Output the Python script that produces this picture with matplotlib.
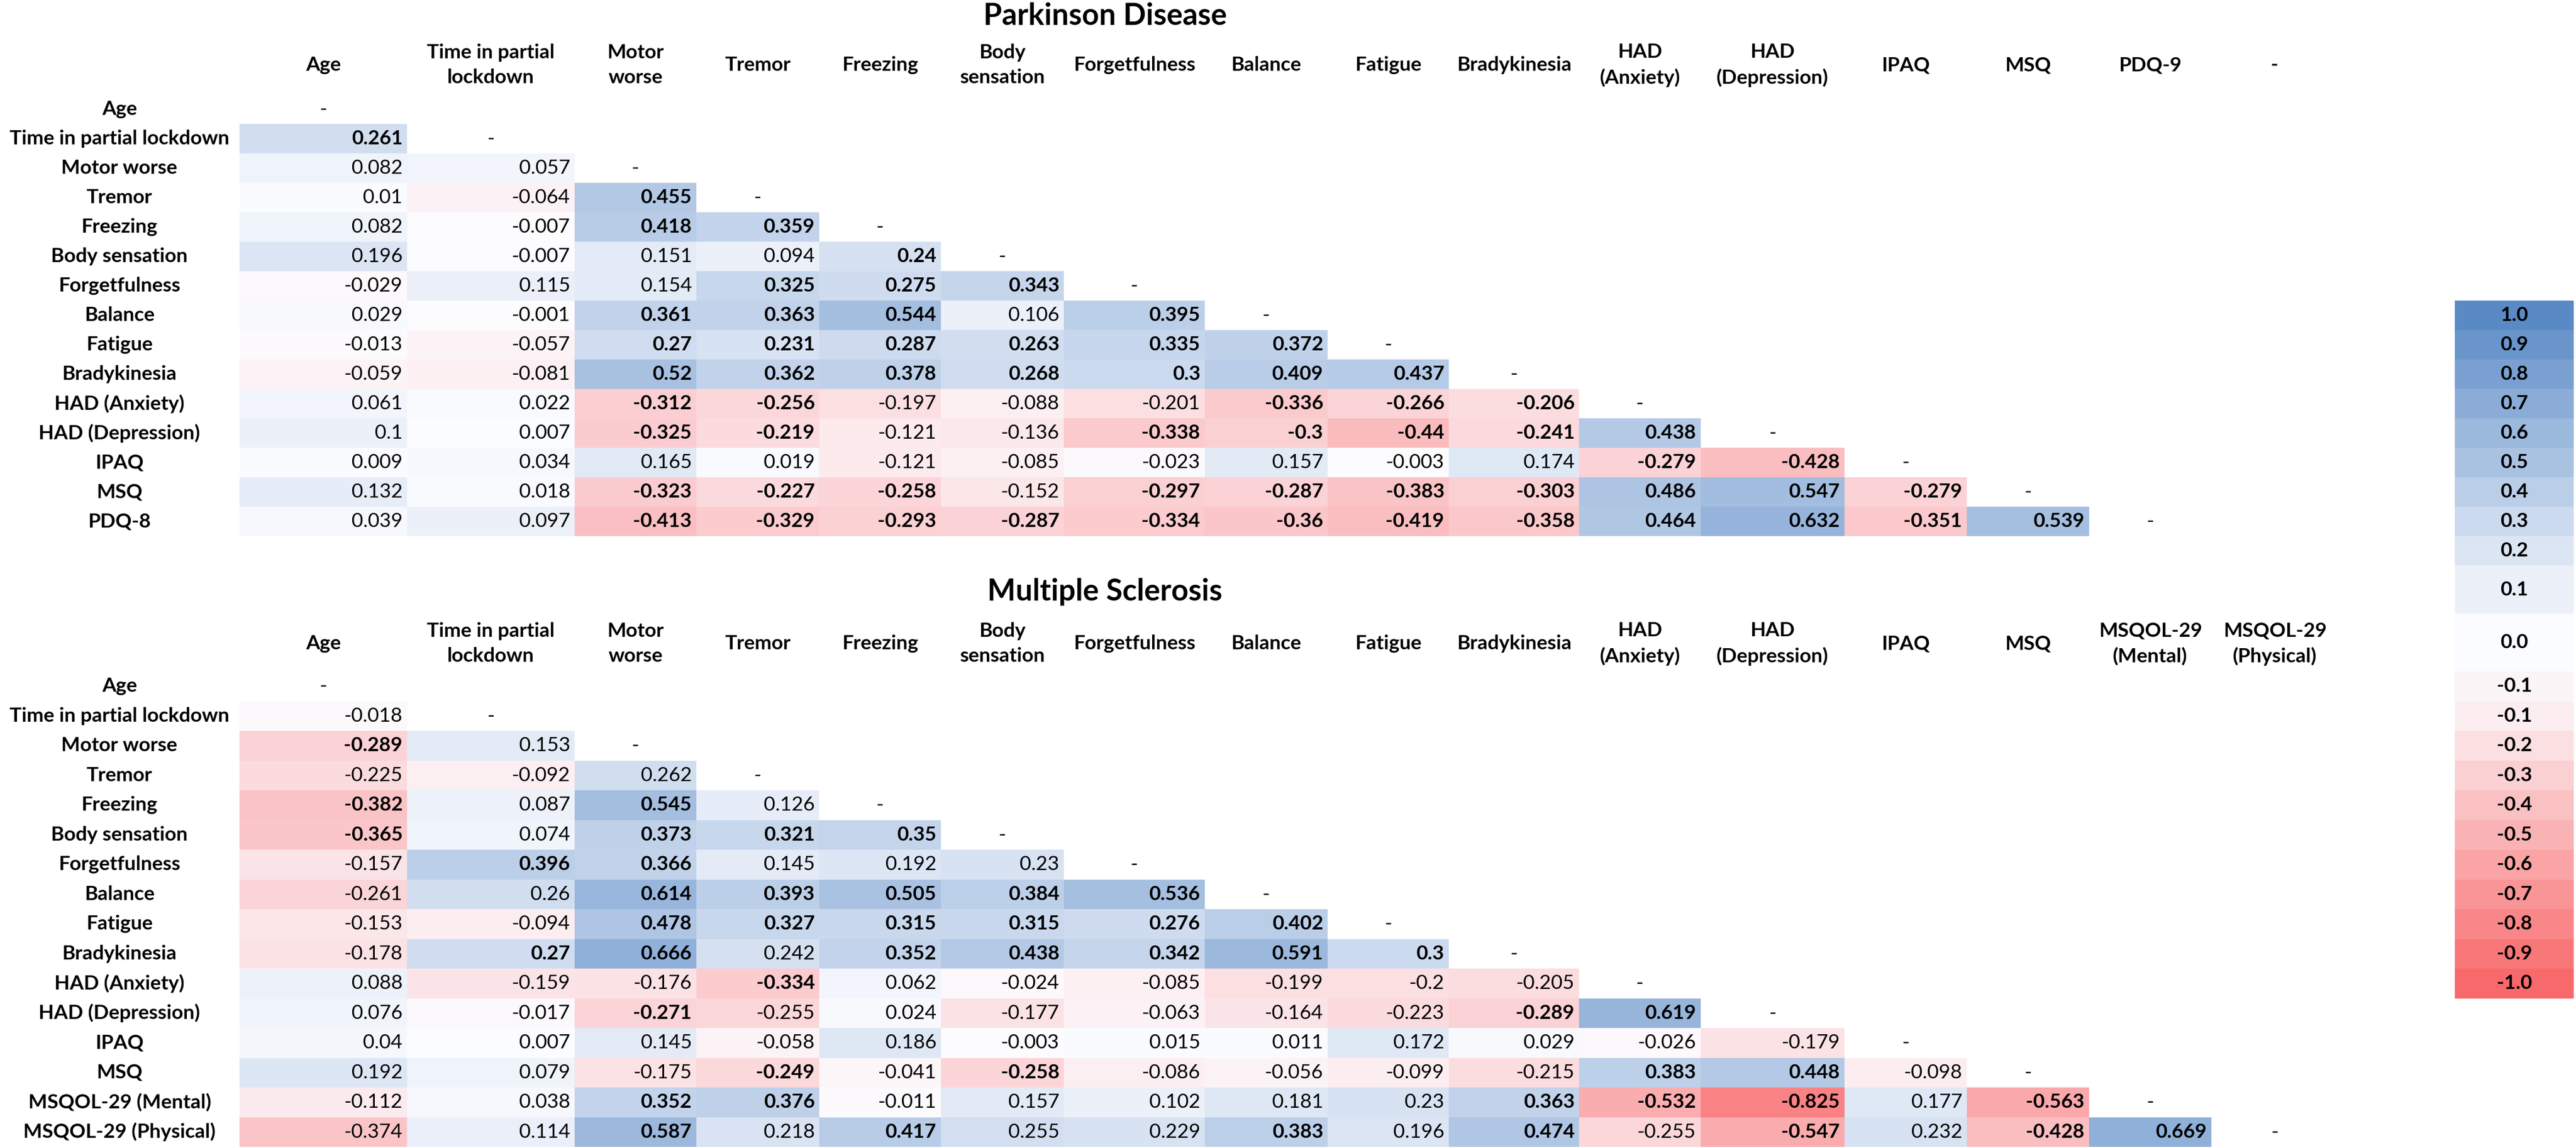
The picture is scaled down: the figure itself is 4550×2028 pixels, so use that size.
import numpy as np
import matplotlib
matplotlib.use("Agg")
import matplotlib.pyplot as plt
from matplotlib.colors import LinearSegmentedColormap, Normalize

plt.rcParams['font.family'] = ['Lato', 'DejaVu Sans']

# ---- data ----
pd_rows = ["Age", "Time in partial lockdown", "Motor worse", "Tremor", "Freezing",
           "Body sensation", "Forgetfulness", "Balance", "Fatigue", "Bradykinesia",
           "HAD (Anxiety)", "HAD (Depression)", "IPAQ", "MSQ", "PDQ-8"]
pd_cols = ["Age", "Time in partial\nlockdown", "Motor\nworse", "Tremor", "Freezing",
           "Body\nsensation", "Forgetfulness", "Balance", "Fatigue", "Bradykinesia",
           "HAD\n(Anxiety)", "HAD\n(Depression)", "IPAQ", "MSQ", "PDQ-9", "-"]
pd_vals = [
    [],
    [0.261],
    [0.082, 0.057],
    [0.01, -0.064, 0.455],
    [0.082, -0.007, 0.418, 0.359],
    [0.196, -0.007, 0.151, 0.094, 0.24],
    [-0.029, 0.115, 0.154, 0.325, 0.275, 0.343],
    [0.029, -0.001, 0.361, 0.363, 0.544, 0.106, 0.395],
    [-0.013, -0.057, 0.27, 0.231, 0.287, 0.263, 0.335, 0.372],
    [-0.059, -0.081, 0.52, 0.362, 0.378, 0.268, 0.3, 0.409, 0.437],
    [0.061, 0.022, -0.312, -0.256, -0.197, -0.088, -0.201, -0.336, -0.266, -0.206],
    [0.1, 0.007, -0.325, -0.219, -0.121, -0.136, -0.338, -0.3, -0.44, -0.241, 0.438],
    [0.009, 0.034, 0.165, 0.019, -0.121, -0.085, -0.023, 0.157, -0.003, 0.174, -0.279, -0.428],
    [0.132, 0.018, -0.323, -0.227, -0.258, -0.152, -0.297, -0.287, -0.383, -0.303, 0.486, 0.547, -0.279],
    [0.039, 0.097, -0.413, -0.329, -0.293, -0.287, -0.334, -0.36, -0.419, -0.358, 0.464, 0.632, -0.351, 0.539],
]
pd_bold = [
    [],
    [1],
    [0, 0],
    [0, 0, 1],
    [0, 0, 1, 1],
    [0, 0, 0, 0, 1],
    [0, 0, 0, 1, 1, 1],
    [0, 0, 1, 1, 1, 0, 1],
    [0, 0, 1, 1, 1, 1, 1, 1],
    [0, 0, 1, 1, 1, 1, 1, 1, 1],
    [0, 0, 1, 1, 0, 0, 0, 1, 1, 1],
    [0, 0, 1, 1, 0, 0, 1, 1, 1, 1, 1],
    [0, 0, 0, 0, 0, 0, 0, 0, 0, 0, 1, 1],
    [0, 0, 1, 1, 1, 0, 1, 1, 1, 1, 1, 1, 1],
    [0, 0, 1, 1, 1, 1, 1, 1, 1, 1, 1, 1, 1, 1],
]

ms_rows = ["Age", "Time in partial lockdown", "Motor worse", "Tremor", "Freezing",
           "Body sensation", "Forgetfulness", "Balance", "Fatigue", "Bradykinesia",
           "HAD (Anxiety)", "HAD (Depression)", "IPAQ", "MSQ",
           "MSQOL-29 (Mental)", "MSQOL-29 (Physical)"]
ms_cols = ["Age", "Time in partial\nlockdown", "Motor\nworse", "Tremor", "Freezing",
           "Body\nsensation", "Forgetfulness", "Balance", "Fatigue", "Bradykinesia",
           "HAD\n(Anxiety)", "HAD\n(Depression)", "IPAQ", "MSQ",
           "MSQOL-29\n(Mental)", "MSQOL-29\n(Physical)"]
ms_vals = [
    [],
    [-0.018],
    [-0.289, 0.153],
    [-0.225, -0.092, 0.262],
    [-0.382, 0.087, 0.545, 0.126],
    [-0.365, 0.074, 0.373, 0.321, 0.35],
    [-0.157, 0.396, 0.366, 0.145, 0.192, 0.23],
    [-0.261, 0.26, 0.614, 0.393, 0.505, 0.384, 0.536],
    [-0.153, -0.094, 0.478, 0.327, 0.315, 0.315, 0.276, 0.402],
    [-0.178, 0.27, 0.666, 0.242, 0.352, 0.438, 0.342, 0.591, 0.3],
    [0.088, -0.159, -0.176, -0.334, 0.062, -0.024, -0.085, -0.199, -0.2, -0.205],
    [0.076, -0.017, -0.271, -0.255, 0.024, -0.177, -0.063, -0.164, -0.223, -0.289, 0.619],
    [0.04, 0.007, 0.145, -0.058, 0.186, -0.003, 0.015, 0.011, 0.172, 0.029, -0.026, -0.179],
    [0.192, 0.079, -0.175, -0.249, -0.041, -0.258, -0.086, -0.056, -0.099, -0.215, 0.383, 0.448, -0.098],
    [-0.112, 0.038, 0.352, 0.376, -0.011, 0.157, 0.102, 0.181, 0.23, 0.363, -0.532, -0.825, 0.177, -0.563],
    [-0.374, 0.114, 0.587, 0.218, 0.417, 0.255, 0.229, 0.383, 0.196, 0.474, -0.255, -0.547, 0.232, -0.428, 0.669],
]
ms_bold = [
    [],
    [0],
    [1, 0],
    [0, 0, 0],
    [1, 0, 1, 0],
    [1, 0, 1, 1, 1],
    [0, 1, 1, 0, 0, 0],
    [0, 0, 1, 1, 1, 1, 1],
    [0, 0, 1, 1, 1, 1, 1, 1],
    [0, 1, 1, 0, 1, 1, 1, 1, 1],
    [0, 0, 0, 1, 0, 0, 0, 0, 0, 0],
    [0, 0, 1, 0, 0, 0, 0, 0, 0, 1, 1],
    [0, 0, 0, 0, 0, 0, 0, 0, 0, 0, 0, 0],
    [0, 0, 0, 1, 0, 1, 0, 0, 0, 0, 1, 1, 0],
    [0, 0, 1, 1, 0, 0, 0, 0, 0, 1, 1, 1, 0, 1],
    [0, 0, 1, 0, 1, 0, 0, 1, 0, 1, 0, 1, 0, 1, 1],
]

legend_vals = [1.0, 0.9, 0.8, 0.7, 0.6, 0.5, 0.4, 0.3, 0.2, 0.1, 0.0,
               -0.05, -0.1, -0.2, -0.3, -0.4, -0.5, -0.6, -0.7, -0.8, -0.9, -1.0]

# ---- layout (pixel grid of the sheet) ----
W, H = 4550, 2028
col_edges = np.array([423, 719, 1015, 1230, 1447, 1662, 1879, 2128, 2345, 2559,
                      2789, 3004, 3258, 3474, 3690, 3906, 4130])
label_cx = 211
pd_top, ms_top = 167, 1186
pd_pitch, ms_pitch = 52.0, 52.5
pd_head_y, ms_head_y = 115, 1137
pd_title_y, ms_title_y = 28, 1046
title_cx = 1952

cmap = LinearSegmentedColormap.from_list("excel", ["#F8696B", "#FCFCFF", "#5A8AC6"])
norm = Normalize(-1, 1)

fig = plt.figure(figsize=(W / 100, H / 100), dpi=100)
ax = fig.add_axes([0, 0, 1, 1])
ax.set_xlim(0, W)
ax.set_ylim(H, 0)
ax.axis("off")

FS = 25.5


def draw_table(rows, cols, vals, bold, top, pitch, head_y, title, title_y):
    n = len(rows)
    ncol = n
    row_edges = top + pitch * np.arange(n + 1)
    mat = np.full((n, ncol), np.nan)
    for i, r in enumerate(vals):
        mat[i, :len(r)] = r
    ax.pcolormesh(col_edges[:ncol + 1], row_edges, np.ma.masked_invalid(mat),
                  cmap=cmap, norm=norm, shading="flat")
    ycen = (row_edges[:-1] + row_edges[1:]) / 2
    xcen = (col_edges[:-1] + col_edges[1:]) / 2
    for i, lab in enumerate(rows):
        ax.text(label_cx, ycen[i], lab, ha="center", va="center",
                fontsize=FS, fontweight="bold")
        for j, v in enumerate(vals[i]):
            ax.text(col_edges[j + 1] - 8, ycen[i], f"{v:g}", ha="right", va="center",
                    fontsize=FS, fontweight="bold" if bold[i][j] else "normal")
        ax.text(xcen[i], ycen[i], "-", ha="center", va="center", fontsize=FS)
    for j, c in enumerate(cols):
        ax.text(xcen[j], head_y, c, ha="center", va="center", fontsize=FS,
                fontweight="bold", linespacing=1.45)
    ax.text(title_cx, title_y, title, ha="center", va="center",
            fontsize=38, fontweight="bold")


draw_table(pd_rows, pd_cols, pd_vals, pd_bold, pd_top, pd_pitch, pd_head_y,
           "Parkinson Disease", pd_title_y)
draw_table(ms_rows, ms_cols, ms_vals, ms_bold, ms_top, ms_pitch, ms_head_y,
           "Multiple Sclerosis", ms_title_y)

# colour key column on the right
key_edges = np.concatenate([pd_top + pd_pitch * np.arange(7, 17),
                            [1084],
                            ms_top + ms_pitch * np.arange(0, 12)])
key_x = np.array([4336, 4546])
ax.pcolormesh(key_x, key_edges, np.array(legend_vals)[:, None], cmap=cmap, norm=norm,
              shading="flat")
key_cy = (key_edges[:-1] + key_edges[1:]) / 2
for y, v in zip(key_cy, legend_vals):
    ax.text(key_x.mean(), y, f"{v:.1f}", ha="center", va="center",
            fontsize=FS, fontweight="bold")

fig.savefig("out.png", dpi=100, facecolor="white")
